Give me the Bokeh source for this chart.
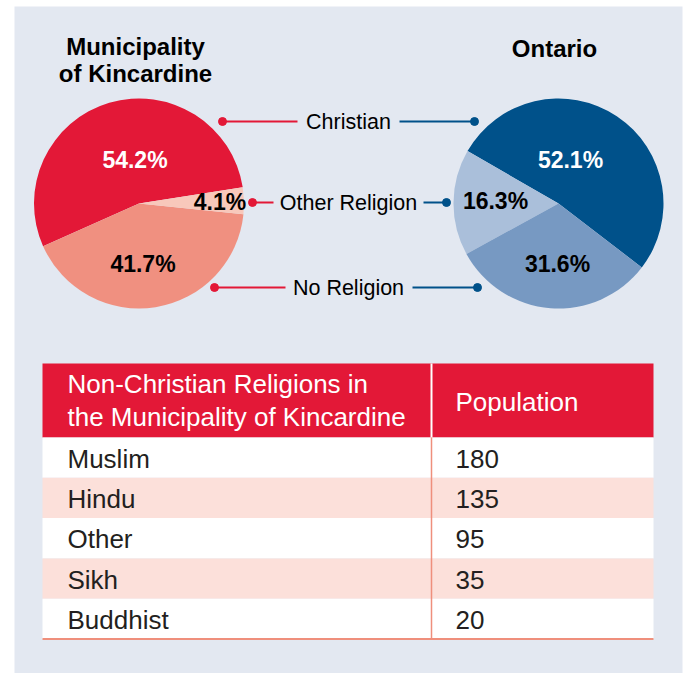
import numpy as np
from bokeh.plotting import figure
from bokeh.models import Range1d, ColumnDataSource
from bokeh.core.properties import value
from bokeh.embed import file_html
from bokeh.resources import INLINE

# ---------------- data ----------------
categories = ["Christian", "Other Religion", "No Religion"]
kincardine_pct = [54.2, 4.1, 41.7]
ontario_pct = [52.1, 16.3, 31.6]
kincardine_colors = ["#e31837", "#f8c8bb", "#f09080"]
ontario_colors = ["#00518a", "#aabfda", "#7799c2"]
titles = ["Municipality\nof Kincardine", "Ontario"]

table_header = ["Non-Christian Religions in\nthe Municipality of Kincardine", "Population"]
religions = ["Muslim", "Hindu", "Other", "Sikh", "Buddhist"]
population = [180, 135, 95, 35, 20]

# ---------------- layout helpers ----------------
W, H = 683, 673
def Y(py):
    # convert a page-pixel y into data y (data y grows upward)
    return 673 - py

FONT = value("Liberation Sans")
RED = "#e31837"
BLUE = "#00518a"
SALMON = "#ef8f7c"

p = figure(width=W, height=H, output_backend="svg", toolbar_location=None,
           x_range=Range1d(14, 682), y_range=Range1d(0, 667),
           x_axis_location=None, y_axis_location=None,
           min_border=0, min_border_left=14, min_border_right=1,
           min_border_top=6, min_border_bottom=0)
p.grid.visible = False
p.outline_line_color = None
p.background_fill_color = "#e3e8f1"
p.border_fill_color = "white"

def draw_pie(cx, cy, r, pcts, colors, order, start_deg, label_offsets, label_colors):
    # order: indices of categories drawn counter-clockwise starting at start_deg
    ang = np.radians(start_deg)
    starts, ends, cols = [], [], []
    lx, ly, lt, lc = [], [], [], []
    for idx in order:
        span = pcts[idx] / 100.0 * 2 * np.pi
        starts.append(ang)
        ends.append(ang + span)
        cols.append(colors[idx])
        ang += span
    for idx in range(len(pcts)):
        dx, dy = label_offsets[idx]
        lx.append(cx + dx)
        ly.append(Y(cy + dy))
        lt.append(f"{pcts[idx]:.1f}%")
        lc.append(label_colors[idx])
    src = ColumnDataSource(dict(s=starts, e=ends, c=cols))
    p.wedge(x=cx, y=Y(cy), radius=r, start_angle="s", end_angle="e",
            fill_color="c", line_color=None, source=src)
    tsrc = ColumnDataSource(dict(x=lx, y=ly, t=lt, c=lc))
    p.text(x="x", y="y", text="t", text_color="c", source=tsrc,
           text_font=FONT, text_font_style="bold", text_font_size="23px",
           text_align="center", text_baseline="middle")

# left pie (Kincardine)
draw_pie(138.5, 203, 105, kincardine_pct, kincardine_colors,
         order=[0, 2, 1], start_deg=8.9,
         label_offsets=[(-4, -44), (81, -2), (4, 60)],
         label_colors=["white", "black", "black"])
# right pie (Ontario)
draw_pie(558, 203, 105, ontario_pct, ontario_colors,
         order=[0, 1, 2], start_deg=-37.5,
         label_offsets=[(12, -44), (-63, -3), (-1, 60)],
         label_colors=["white", "black", "black"])

# titles
p.text(x=[135, 554], y=[Y(59), Y(48)], text=titles,
       text_font=FONT, text_font_style="bold", text_font_size="24px",
       text_align="center", text_baseline="middle", text_color="black",
       text_line_height=1.0)

# middle legend with connectors
leg_y = [121, 202, 287]
lab_x = 348
left_dot = [222, 252, 214]
left_end = [297, 273, 285]
right_start = [399, 423, 412]
right_dot = [474, 446, 477]
p.text(x=[lab_x] * 3, y=[Y(v) for v in leg_y], text=categories,
       text_font=FONT, text_font_size="21.5px", text_color="black",
       text_align="center", text_baseline="middle")
p.segment(x0=left_dot, y0=[Y(v) for v in leg_y], x1=left_end, y1=[Y(v) for v in leg_y],
          line_color=RED, line_width=2)
p.scatter(x=left_dot, y=[Y(v) for v in leg_y], size=8, color=RED)
p.segment(x0=right_start, y0=[Y(v) for v in leg_y], x1=right_dot, y1=[Y(v) for v in leg_y],
          line_color=BLUE, line_width=2)
p.scatter(x=right_dot, y=[Y(v) for v in leg_y], size=8, color=BLUE)

# ---------------- table ----------------
T_LEFT, T_RIGHT, T_DIV = 42, 653, 431
H_TOP, H_BOT = 363, 437
ROW_H = 40.3
n = len(religions)
p.quad(left=T_LEFT, right=T_RIGHT, top=Y(H_TOP), bottom=Y(H_BOT), fill_color=RED, line_color=None)
row_tops = [H_BOT + i * ROW_H for i in range(n)]
row_fill = ["white" if i % 2 == 0 else "#fce0da" for i in range(n)]
p.quad(left=T_LEFT, right=T_RIGHT, top=[Y(t) for t in row_tops],
       bottom=[Y(t + ROW_H) for t in row_tops], fill_color=row_fill, line_color=None)
T_BOT = H_BOT + n * ROW_H
p.segment(x0=[T_DIV], y0=[Y(H_TOP)], x1=[T_DIV], y1=[Y(H_BOT)], line_color="white", line_width=2)
p.segment(x0=[T_DIV], y0=[Y(H_BOT)], x1=[T_DIV], y1=[Y(T_BOT)], line_color=SALMON, line_width=1.5)
p.segment(x0=[T_LEFT], y0=[Y(T_BOT)], x1=[T_RIGHT], y1=[Y(T_BOT)], line_color=SALMON, line_width=2)

p.text(x=[67, 455], y=[Y(400), Y(401)], text=table_header,
       text_font=FONT, text_font_size="26px", text_color="white",
       text_align="left", text_baseline="middle", text_line_height=1.12)
row_mid = [Y(t + ROW_H / 2 + 1) for t in row_tops]
p.text(x=[67] * n, y=row_mid, text=religions,
       text_font=FONT, text_font_size="26px", text_color="#231f20",
       text_align="left", text_baseline="middle")
p.text(x=[455] * n, y=row_mid, text=[str(v) for v in population],
       text_font=FONT, text_font_size="26px", text_color="#231f20",
       text_align="left", text_baseline="middle")

open("out.html", "w").write(file_html(p, INLINE))
